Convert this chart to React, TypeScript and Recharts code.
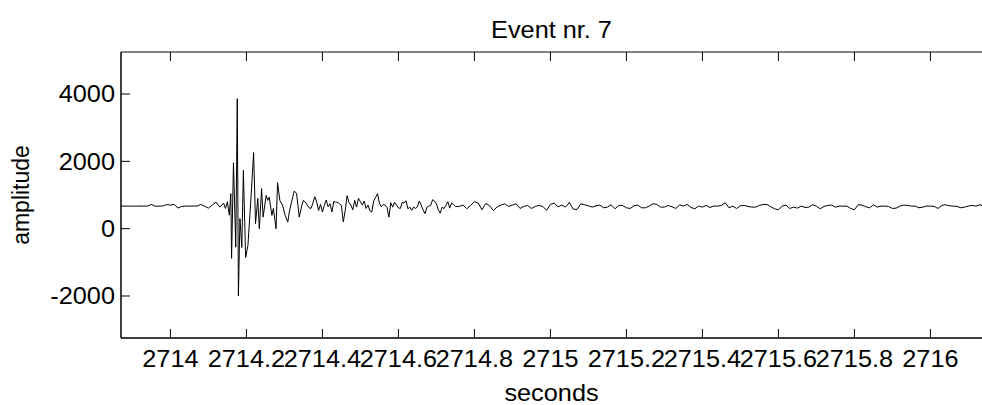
import { LineChart, Line, XAxis, YAxis, ReferenceArea } from 'recharts';

// seismogram samples
const preStart = 2713.87;
const preStep = 0.01;
const preAmp = [
  670, 670, 670, 668, 670, 670, 672, 670, 720, 665,
  670, 672, 715, 700, 720, 612, 660, 670, 670, 672,
  670, 720, 668, 610, 700, 790, 640, 760,
];

// strongest part of the burst, irregular picks
const burstTimes = [
  2714.145, 2714.15, 2714.155, 2714.159, 2714.161, 2714.166, 2714.172, 2714.176, 2714.179, 2714.183,
  2714.188, 2714.192, 2714.198, 2714.204, 2714.212, 2714.219, 2714.224, 2714.23, 2714.234, 2714.24,
  2714.244, 2714.252, 2714.256, 2714.26, 2714.267, 2714.271, 2714.278, 2714.282, 2714.288, 2714.295,
  2714.302, 2714.309, 2714.313, 2714.319, 2714.326, 2714.332, 2714.339, 2714.346,
];
const burstAmp = [
  600, 800, 400, 1040, -880, 1960, -550, 3860, -2000, 300,
  -560, 1730, -860, -500, 900, 2260, 150, 900, 0, 1190,
  345, 990, 840, 940, 395, 600, 0, 1366, 840, 700,
  395, 196, 500, 800, 1117, 1050, 345, 700,
];

const midStart = 2714.35;
const midStep = 0.005;
const midAmp = [
  840, 790, 700, 620, 600, 760, 950, 790, 540, 720,
  495, 690, 850, 650, 740, 495, 810, 790, 780, 740,
  690, 200, 540, 980, 780, 700, 560, 840, 640, 900,
  800, 700, 820, 600, 700, 530, 495, 820, 930, 1040,
  760, 650, 720, 700, 630, 345, 770, 640, 780, 700,
  620, 600, 780, 760, 830, 590, 640, 545, 640, 600,
  650, 820, 700, 560, 445, 640, 670, 690, 860, 820,
  740, 560, 460, 640, 595, 690, 800, 610, 760, 720,
];

const tailStart = 2714.75;
const tailStep = 0.01;
const tailAmp = [
  660, 660, 700, 594, 690, 800, 760, 560, 750, 680,
  540, 650, 700, 740, 660, 700, 740, 600, 660, 690,
  600, 660, 690, 660, 545, 720, 760, 650, 700, 640,
  780, 580, 570, 740, 710, 680, 640, 680, 700, 620,
  640, 710, 590, 690, 690, 620, 600, 680, 700, 620,
  620, 670, 740, 720, 640, 640, 690, 650, 600, 710,
  670, 720, 630, 590, 670, 640, 690, 630, 670, 670,
  690, 770, 620, 670, 600, 680, 690, 660, 640, 640,
  690, 720, 720, 650, 590, 560, 670, 700, 600, 640,
  610, 670, 630, 640, 710, 670, 590, 660, 690, 700,
  640, 670, 670, 670, 600, 560, 710, 700, 650, 620,
  710, 640, 670, 670, 660, 600, 610, 670, 700, 690,
  670, 670, 620, 640, 670, 670, 660, 600, 690, 710,
  680, 670, 660, 620, 640, 670, 690, 670, 710, 670,
];

const xTicks = [2714, 2714.2, 2714.4, 2714.6, 2714.8, 2715, 2715.2, 2715.4, 2715.6, 2715.8, 2716];
const yTicks = [-2000, 0, 2000, 4000];

const X_MIN = 2713.87;
const X_MAX = 2716.1463;
const Y_MIN = -3248;
const Y_MAX = 5248;

const PLOT_TOP = 52;
const FONT = '"Liberation Sans", Arial, Helvetica, sans-serif';
const STRETCH = 1.1; // the source image is a little wider than tall

const sampled = (t0: number, dt: number, amps: number[]) =>
  amps.map((v, i) => ({ t: Number((t0 + i * dt).toFixed(4)), v }));

const data = [
  ...sampled(preStart, preStep, preAmp),
  ...burstTimes.map((t, i) => ({ t, v: burstAmp[i] })),
  ...sampled(midStart, midStep, midAmp),
  ...sampled(tailStart, tailStep, tailAmp),
];

const Label = ({ x, y, anchor = 'middle', dy, children }: any) => (
  <text
    transform={`translate(${x} ${y}) scale(${STRETCH} 1)`}
    dy={dy}
    textAnchor={anchor}
    fontSize={23}
    fontFamily={FONT}
    fill="#000"
  >
    {children}
  </text>
);

const XTick = (props: any) => {
  const { x, y, payload } = props;
  return (
    <g>
      <line x1={x} x2={x} y1={y} y2={y - 9} stroke="#000" />
      <line x1={x} x2={x} y1={PLOT_TOP} y2={PLOT_TOP + 9} stroke="#000" />
      <Label x={x} y={y + 29}>{String(payload.value)}</Label>
    </g>
  );
};

const YTick = (props: any) => {
  const { x, y, payload } = props;
  return (
    <g>
      <line x1={x} x2={x + 9} y1={y} y2={y} stroke="#000" />
      <Label x={x - 6} y={y} dy="0.36em" anchor="end">{String(payload.value)}</Label>
    </g>
  );
};

export default function App() {
  return (
    <div style={{ position: 'fixed', left: 0, top: 0, width: 982, height: 405, overflow: 'hidden', background: '#fff' }}>
      <LineChart width={990} height={405} data={data} margin={{ top: 52, right: 4, bottom: 37, left: 61 }}>
        <ReferenceArea x1={X_MIN} x2={X_MAX} y1={Y_MIN} y2={Y_MAX} fill="none" stroke="#000" strokeWidth={1} ifOverflow="visible" />
        <XAxis
          type="number"
          dataKey="t"
          domain={[X_MIN, X_MAX]}
          allowDataOverflow
          ticks={xTicks}
          interval={0}
          height={30}
          tickSize={0}
          tickMargin={0}
          tickLine={false}
          axisLine={{ stroke: '#000' }}
          tick={XTick}
        />
        <YAxis
          type="number"
          domain={[Y_MIN, Y_MAX]}
          allowDataOverflow
          ticks={yTicks}
          interval={0}
          width={60}
          tickSize={0}
          tickMargin={0}
          tickLine={false}
          axisLine={{ stroke: '#000' }}
          tick={YTick}
        />
        <Line type="linear" dataKey="v" stroke="#000" strokeWidth={1} dot={false} isAnimationActive={false} />
      </LineChart>
      <svg width={982} height={405} style={{ position: 'absolute', left: 0, top: 0, pointerEvents: 'none' }}>
        <Label x={551.5} y={38}>Event nr. 7</Label>
        <Label x={551.5} y={401}>seconds</Label>
        <text x={29} y={195} transform="rotate(-90 29 195)" textAnchor="middle" fontSize={23} fontFamily={FONT} fill="#000">amplitude</text>
      </svg>
    </div>
  );
}
